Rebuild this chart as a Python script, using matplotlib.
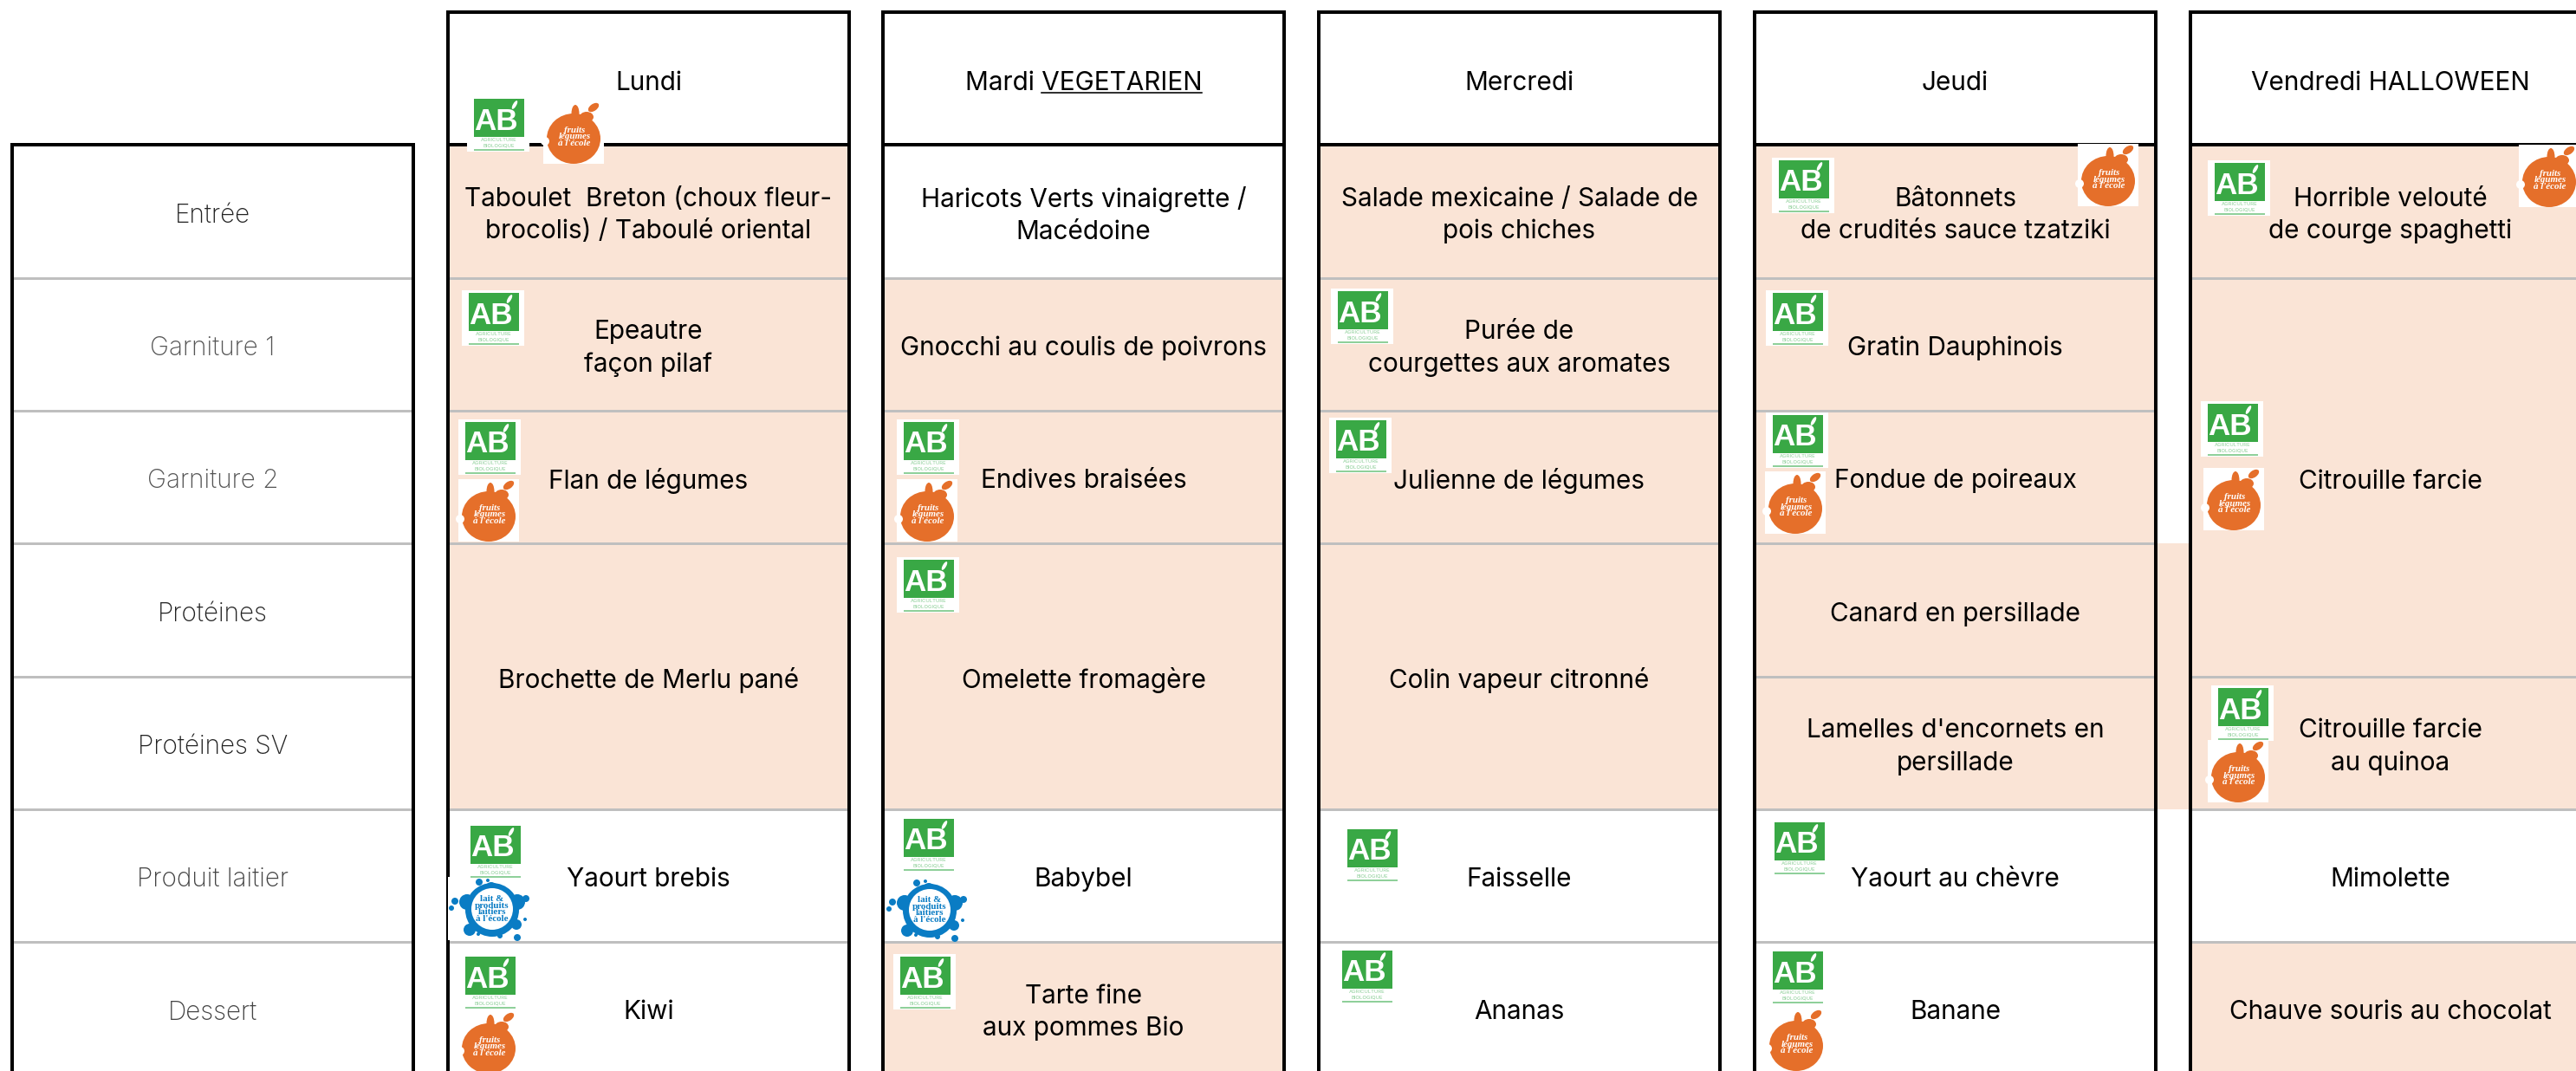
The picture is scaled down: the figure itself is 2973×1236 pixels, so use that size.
import matplotlib
matplotlib.use("Agg")
import matplotlib.pyplot as plt
from matplotlib.patches import Rectangle, Ellipse, Circle

plt.rcParams['font.family'] = ['Inter', 'DejaVu Sans']

# menu data
row_labels = ["Entrée", "Garniture 1", "Garniture 2", "Protéines", "Protéines SV", "Produit laitier", "Dessert"]
row_label_colors = ["#222222", "#555555", "#555555", "#222222", "#222222", "#444444", "#444444"]
days = ["Lundi", "Mardi VEGETARIEN", "Mercredi", "Jeudi", "Vendredi HALLOWEEN"]

# one dish per cell: (first row, number of rows, text, peach or not)
lundi = [(0, 1, "Taboulet  Breton (choux fleur-\nbrocolis) / Taboulé oriental", True),
         (1, 1, "Epeautre\nfaçon pilaf", True),
         (2, 1, "Flan de légumes", True),
         (3, 2, "Brochette de Merlu pané", True),
         (5, 1, "Yaourt brebis", False),
         (6, 1, "Kiwi", False)]
mardi = [(0, 1, "Haricots Verts vinaigrette /\nMacédoine", False),
         (1, 1, "Gnocchi au coulis de poivrons", True),
         (2, 1, "Endives braisées", True),
         (3, 2, "Omelette fromagère", True),
         (5, 1, "Babybel", False),
         (6, 1, "Tarte fine\naux pommes Bio", True)]
mercredi = [(0, 1, "Salade mexicaine / Salade de\npois chiches", True),
            (1, 1, "Purée de\ncourgettes aux aromates", True),
            (2, 1, "Julienne de légumes", True),
            (3, 2, "Colin vapeur citronné", True),
            (5, 1, "Faisselle", False),
            (6, 1, "Ananas", False)]
jeudi = [(0, 1, "Bâtonnets\nde crudités sauce tzatziki", True),
         (1, 1, "Gratin Dauphinois", True),
         (2, 1, "Fondue de poireaux", True),
         (3, 1, "Canard en persillade", True),
         (4, 1, "Lamelles d'encornets en\npersillade", True),
         (5, 1, "Yaourt au chèvre", False),
         (6, 1, "Banane", False)]
vendredi = [(0, 1, "Horrible velouté\nde courge spaghetti", True),
            (1, 3, "Citrouille farcie", True),
            (4, 1, "Citrouille farcie\nau quinoa", True),
            (5, 1, "Mimolette", False),
            (6, 1, "Chauve souris au chocolat", True)]
menus = [lundi, mardi, mercredi, jeudi, vendredi]

# logos, top left corner in pixels
ab_logos = [(539, 111), (533, 335), (529, 484), (535, 950), (529, 1101),
            (1035, 484), (1035, 643), (1035, 942), (1031, 1101),
            (1536, 333), (1534, 482), (1547, 954), (1541, 1094),
            (2045, 182), (2038, 335), (2038, 476), (2040, 946), (2038, 1095),
            (2548, 185), (2540, 463), (2552, 791)]
fruit_logos = [(627, 117), (529, 553), (529, 1167),
               (1035, 553),
               (2398, 166), (2037, 544), (2038, 1164),
               (2907, 167), (2543, 540), (2548, 854)]
milk_logos = [(517, 1012), (1022, 1013)]

# layout
W = 2973
H = 1236
col_x = [517, 1019, 1522, 2025, 2528]
col_w = 463
label_x = 14
label_w = 463
top = 14
row_y = [167, 321, 474, 627, 781, 934, 1087, 1241]
PEACH = "#FAE4D6"
GREY = "#BFBFBF"
FS = 21.4
DY = 4.5


def px(n):
    return n * 72 / 100


fig = plt.figure(figsize=(W / 100, H / 100), dpi=100)
ax = fig.add_axes([0, 0, 1, 1])
ax.set_xlim(0, W)
ax.set_ylim(H, 0)
ax.axis("off")

# peach strip between jeudi and vendredi
ax.add_patch(Rectangle((col_x[3] + col_w, row_y[3]), col_x[4] - col_x[3] - col_w, row_y[5] - row_y[3],
                       fc=PEACH, ec="none", zorder=1))

# row labels
for i in range(len(row_labels)):
    ax.text(label_x + label_w / 2, (row_y[i] + row_y[i + 1]) / 2 + DY, row_labels[i], ha="center", va="center",
            fontsize=FS, color=row_label_colors[i], fontweight="light", zorder=5)
    if i > 0:
        ax.plot([label_x, label_x + label_w], [row_y[i], row_y[i]], color=GREY, lw=px(3), solid_capstyle="butt", zorder=3)
ax.plot([label_x, label_x, label_x + label_w, label_x + label_w], [H + 10, row_y[0], row_y[0], H + 10],
        color="black", lw=px(4), solid_joinstyle="miter", zorder=4)

# day columns
for c in range(len(days)):
    x0 = col_x[c]
    x1 = x0 + col_w
    xm = x0 + col_w / 2
    if c == 4:
        xm = 2759
        x1 = W + 40
    for first, n, dish, filled in menus[c]:
        y0 = row_y[first]
        y1 = row_y[first + n]
        if filled:
            ax.add_patch(Rectangle((x0, y0), x1 - x0, y1 - y0, fc=PEACH, ec="none", zorder=1))
        if first > 0:
            ax.plot([x0, x1], [y0, y0], color=GREY, lw=px(3), solid_capstyle="butt", zorder=3)
        ax.text(xm, (y0 + y1) / 2 + DY, dish, ha="center", va="center", fontsize=FS, color="black",
                linespacing=1.42, zorder=5)
    ax.plot([x0, x0, x1, x1, x0], [H + 10, top, top, H + 10, H + 10], color="black", lw=px(4),
            solid_joinstyle="miter", zorder=4)
    ax.plot([x0, x1], [row_y[0], row_y[0]], color="black", lw=px(4), solid_capstyle="butt", zorder=4)
    t = ax.text(xm, (top + row_y[0]) / 2 + 1 + DY, days[c], ha="center", va="center", fontsize=FS, color="black", zorder=5)
    if "VEGETARIEN" in days[c]:
        r = fig.canvas.get_renderer()
        whole = t.get_window_extent(r)
        word = ax.text(0, 0, "VEGETARIEN", fontsize=FS)
        w = word.get_window_extent(r).width
        word.remove()
        ax.plot([whole.x1 - w, whole.x1], [107, 107], color="black", lw=px(1.6), zorder=5)


def draw_ab(x, y):
    ax.add_patch(Rectangle((x, y), 72, 64, fc="white", ec="none", zorder=6))
    ax.add_patch(Rectangle((x + 8, y + 3), 58, 44, fc="#39A845", ec="none", zorder=7))
    ax.text(x + 33, y + 29, "AB", color="white", fontsize=px(35), fontweight="bold", ha="center", va="center",
            family=["Liberation Sans"], zorder=8)
    ax.add_patch(Ellipse((x + 55, y + 10), 4, 11, angle=30, fc="white", ec="none", zorder=8))
    ax.text(x + 37, y + 50.5, "AGRICULTURE", color="#8FD09A", fontsize=px(6), ha="center", va="center", zorder=8)
    ax.text(x + 37, y + 57, "BIOLOGIQUE", color="#8FD09A", fontsize=px(6), ha="center", va="center", zorder=8)
    ax.add_patch(Rectangle((x + 8, y + 61), 58, 1.5, fc="#8FD09A", ec="none", zorder=8))


def draw_fruit(x, y):
    ax.add_patch(Rectangle((x, y), 70, 72, fc="white", ec="none", zorder=6))
    ax.add_patch(Ellipse((x + 35, y + 43), 62, 58, fc="#E56F2A", ec="none", zorder=7))
    ax.add_patch(Ellipse((x + 37, y + 14), 9, 20, fc="#E56F2A", ec="none", zorder=7))
    ax.add_patch(Ellipse((x + 50, y + 18), 16, 12, fc="#E56F2A", ec="none", zorder=7))
    ax.add_patch(Ellipse((x + 58, y + 7), 14, 8, angle=-35, fc="#E56F2A", ec="none", zorder=7))
    ax.add_patch(Circle((x + 2, y + 46), 5, fc="white", ec="none", zorder=8))
    ax.text(x + 36, y + 41, "fruits\nlégumes\nà l'école", color="white", fontsize=px(11), style="italic",
            fontweight="bold", ha="center", va="center", linespacing=0.85, family=["Liberation Serif"], zorder=8)


def draw_milk(x, y):
    ax.add_patch(Rectangle((x, y), 100, 73, fc="white", ec="none", zorder=6))
    for dx, dy, r in [(50, 13, 7), (80, 29, 9), (22, 29, 9), (79, 55, 6), (25, 61, 7), (74, 41, 3), (8, 28, 4),
                      (4, 36, 3), (90, 25, 4), (36, 6, 4), (46, 4, 2), (35, 66, 2), (80, 70, 4), (60, 68, 3), (89, 49, 2)]:
        ax.add_patch(Circle((x + dx, y + dy), r, fc="#0A7CC4", ec="none", zorder=7))
    ax.add_patch(Circle((x + 51, y + 38), 31, fc="#0A7CC4", ec="none", zorder=7))
    ax.add_patch(Circle((x + 51, y + 37), 24, fc="white", ec="none", zorder=8))
    ax.text(x + 51, y + 37, "lait &\nproduits\nlaitiers\nà l'école", color="#0A7CC4", fontsize=px(11), fontweight="bold",
            ha="center", va="center", linespacing=0.8, family=["Liberation Serif"], zorder=9)


for x, y in ab_logos:
    draw_ab(x, y)
for x, y in fruit_logos:
    draw_fruit(x, y)
for x, y in milk_logos:
    draw_milk(x, y)

fig.savefig("out.png", dpi=100)
